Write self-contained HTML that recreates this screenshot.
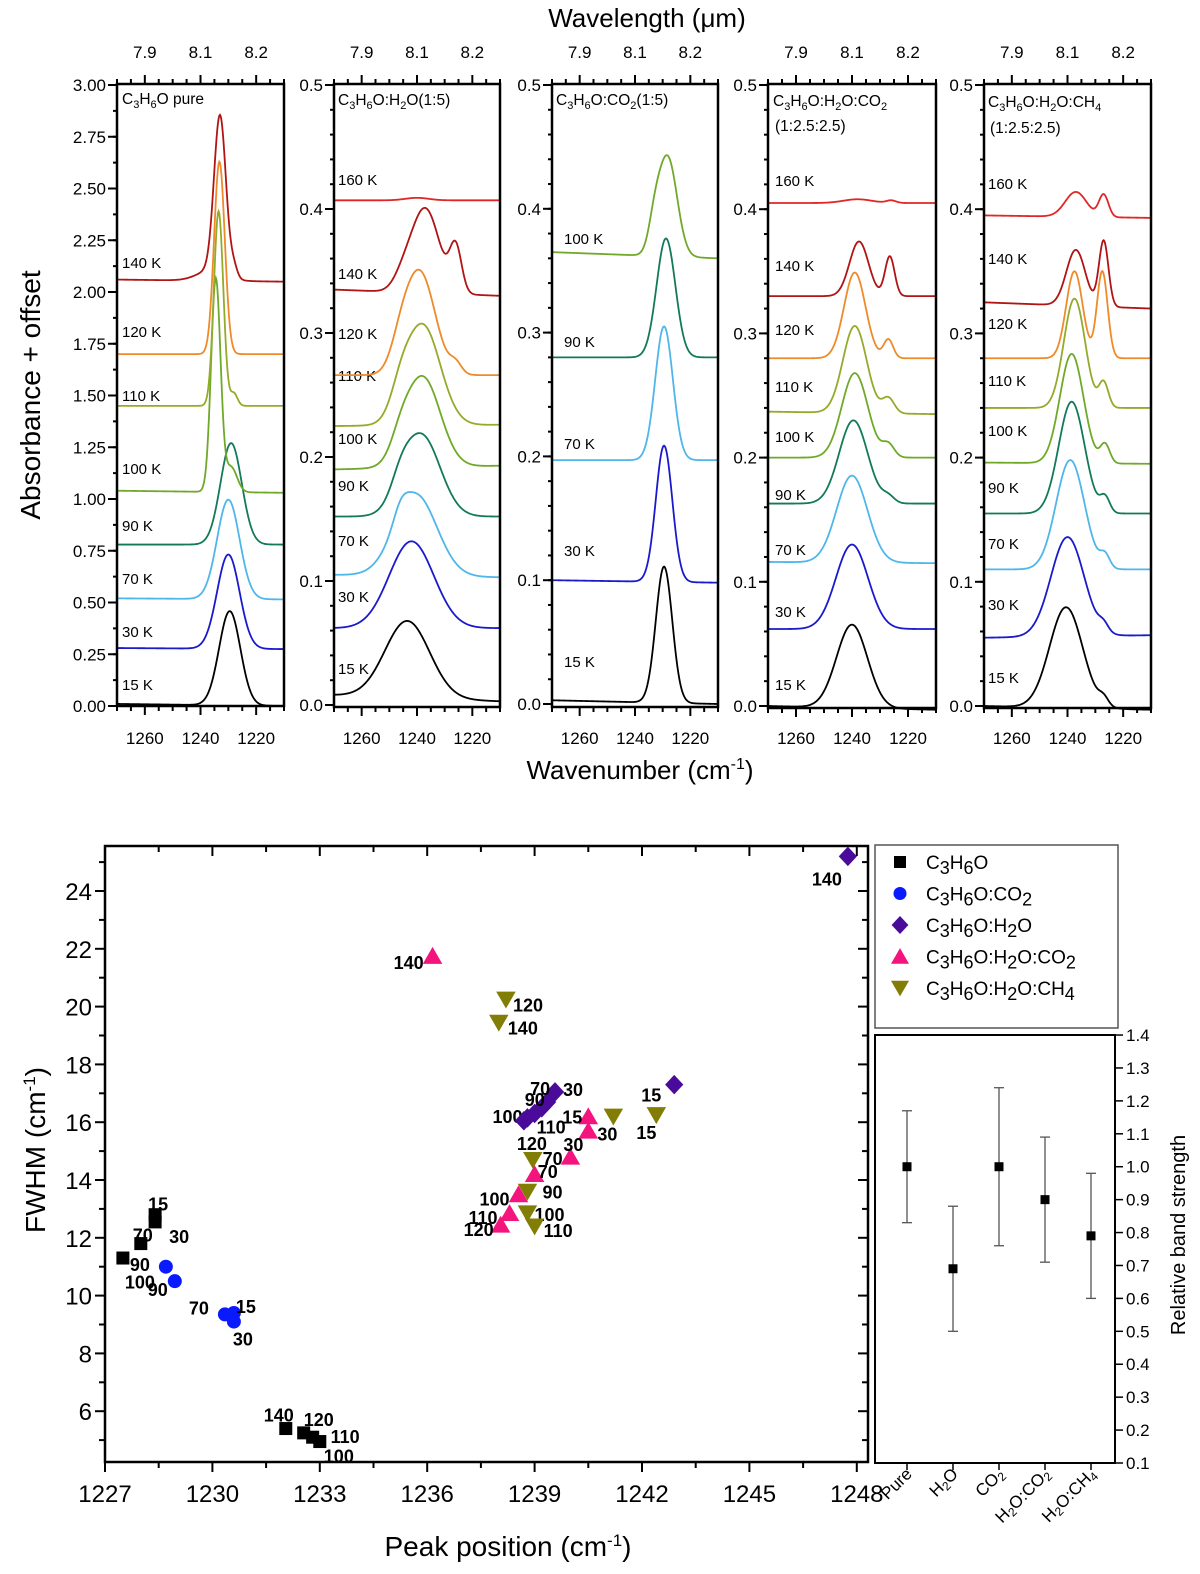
<!DOCTYPE html>
<html><head><meta charset="utf-8"><style>
html,body{margin:0;padding:0;background:#fff;}
svg{display:block;font-family:"Liberation Sans",Arial,sans-serif;}
</style></head><body>
<svg id="fig" width="1200" height="1574" viewBox="0 0 1200 1574">
<rect x="0" y="0" width="1200" height="1574" fill="#fff"/>
<text x="647" y="27" font-size="26" text-anchor="middle">Wavelength (μm)</text>
<text transform="translate(40,395) rotate(-90)" font-size="28" text-anchor="middle">Absorbance + offset</text>
<text x="640" y="779" font-size="26" text-anchor="middle">Wavenumber (cm<tspan dy="-10" font-size="16">-1</tspan><tspan dy="10">)</tspan></text>
<text x="122" y="104" font-size="15.5">C<tspan font-size="11" dy="4">3</tspan><tspan dy="-4">H</tspan><tspan font-size="11" dy="4">6</tspan><tspan dy="-4">O pure</tspan></text>
<text x="338" y="105" font-size="15.5">C<tspan font-size="11" dy="4">3</tspan><tspan dy="-4">H</tspan><tspan font-size="11" dy="4">6</tspan><tspan dy="-4">O:H</tspan><tspan font-size="11" dy="4">2</tspan><tspan dy="-4">O(1:5)</tspan></text>
<text x="556" y="105" font-size="15.5">C<tspan font-size="11" dy="4">3</tspan><tspan dy="-4">H</tspan><tspan font-size="11" dy="4">6</tspan><tspan dy="-4">O:CO</tspan><tspan font-size="11" dy="4">2</tspan><tspan dy="-4">(1:5)</tspan></text>
<text x="773" y="106" font-size="15.5">C<tspan font-size="11" dy="4">3</tspan><tspan dy="-4">H</tspan><tspan font-size="11" dy="4">6</tspan><tspan dy="-4">O:H</tspan><tspan font-size="11" dy="4">2</tspan><tspan dy="-4">O:CO</tspan><tspan font-size="11" dy="4">2</tspan></text>
<text x="775" y="131" font-size="15.5">(1:2.5:2.5)</text>
<text x="988" y="107" font-size="15.5">C<tspan font-size="11" dy="4">3</tspan><tspan dy="-4">H</tspan><tspan font-size="11" dy="4">6</tspan><tspan dy="-4">O:H</tspan><tspan font-size="11" dy="4">2</tspan><tspan dy="-4">O:CH</tspan><tspan font-size="11" dy="4">4</tspan></text>
<text x="990" y="133" font-size="15.5">(1:2.5:2.5)</text>
<text transform="translate(45,1150) rotate(-90)" font-size="28" text-anchor="middle">FWHM (cm<tspan dy="-10" font-size="17">-1</tspan><tspan dy="10">)</tspan></text>
<text x="508" y="1556" font-size="28" text-anchor="middle">Peak position (cm<tspan dy="-10" font-size="17">-1</tspan><tspan dy="10">)</tspan></text>
<text transform="translate(1185,1235) rotate(-90)" font-size="20" text-anchor="middle">Relative band strength</text>
</svg>
<script>
// ---------- Top panel data: [temperature, baseline-left, baseline-right]
const p1Temps=[15,30,70,90,100,110,120,140];
const p1Base=[[0.01,0],[0.28,0.275],[0.52,0.515],[0.78,0.78],[1.04,1.03],[1.45,1.45],[1.70,1.70],[2.06,2.05]];
const p1Peaks=[[[1229.5,0.455,9]],[[1230,0.455,9.5]],[[1230,0.48,9.5]],[[1229,0.49,9]],[[1234.5,1.03,4],[1229,0.12,5]],[[1233.5,0.94,4],[1228,0.06,3]],[[1233.2,0.93,4.5]],[[1233,0.76,5],[1228,0.05,3],[1236,0.05,12]]];
const p1LabY=[685,632,579,526,469,396,332,263];
const p2Temps=[15,30,70,90,100,110,120,140,160];
const p2Base=[[0.008,0.003],[0.062,0.062],[0.105,0.103],[0.152,0.152],[0.19,0.193],[0.225,0.226],[0.266,0.266],[0.335,0.33],[0.407,0.407]];
const p2Peaks=[[[1243.5,0.062,19]],[[1242,0.07,19]],[[1240.5,0.066,18],[1246,0.01,6]],[[1238.5,0.066,16],[1246,0.012,8]],[[1238,0.073,15],[1246,0.012,8]],[[1238,0.081,15],[1246,0.015,8]],[[1239,0.083,13],[1246,0.015,8],[1226,0.008,5]],[[1237,0.068,12],[1226,0.036,5],[1245,0.01,8]],[[1240,0.002,10]]];
const p2LabY=[669,597,541,486,439,376,334,274,180];
const p3Temps=[15,30,70,90,100];
const p3Base=[[0.003,0],[0.1,0.098],[0.197,0.197],[0.28,0.28],[0.365,0.36]];
const p3Peaks=[[[1229.5,0.11,7]],[[1229.5,0.11,7]],[[1229.5,0.108,7.5]],[[1228.8,0.096,8]],[[1228.2,0.08,8],[1233,0.02,5]]];
const p3LabY=[662,551,444,342,239];
const p4Temps=[15,30,70,90,100,110,120,140,160];
const p4Base=[[0,-0.003],[0.062,0.062],[0.116,0.115],[0.163,0.163],[0.2,0.2],[0.237,0.235],[0.28,0.28],[0.33,0.33],[0.405,0.405]];
const p4Peaks=[[[1240,0.067,13]],[[1240,0.068,13.5]],[[1240,0.07,13]],[[1239.5,0.067,12],[1227,0.005,5]],[[1239,0.068,11],[1227,0.01,5]],[[1239,0.07,10],[1227,0.012,5]],[[1239,0.069,9],[1227,0.015,4]],[[1237.5,0.044,8],[1226.5,0.032,4]],[[1238,0.003,12],[1226,0.002,4]]];
const p4LabY=[685,612,550,495,437,387,330,266,181];
const p5Temps=[15,30,70,90,100,110,120,140,160];
const p5Base=[[0,-0.003],[0.055,0.057],[0.11,0.11],[0.155,0.155],[0.196,0.195],[0.24,0.24],[0.28,0.28],[0.325,0.32],[0.395,0.393]];
const p5Peaks=[[[1240.5,0.081,14],[1227,0.006,4]],[[1240,0.08,14],[1227,0.006,4]],[[1239,0.088,12],[1226.5,0.01,4]],[[1238.5,0.09,11],[1226.5,0.012,4]],[[1238.5,0.088,10],[1226.5,0.015,4]],[[1237.5,0.088,9],[1227,0.02,4]],[[1237.5,0.07,7],[1227.5,0.07,4.5]],[[1237,0.045,8],[1227,0.053,4]],[[1237,0.02,9],[1227,0.018,4]]];
const p5LabY=[678,605,544,488,431,381,324,259,184];
const wnTicks=[1260,1240,1220];
const wlTickLabels=['7.9','8.1','8.2'];
const yTicksPure=[0,0.25,0.5,0.75,1.0,1.25,1.5,1.75,2.0,2.25,2.5,2.75,3.0];
const yTicksMix=[0,0.1,0.2,0.3,0.4,0.5];

// ---------- Scatter data
const pureX=[1228.4,1228.4,1228.0,1227.5,1232.05,1232.55,1232.8,1233.0];
const pureY=[12.8,12.55,11.8,11.3,5.4,5.25,5.1,4.95];
const pureLab=['15','30','70','90','140','120','110','100'];
const co2X=[1228.7,1228.95,1230.35,1230.6,1230.6];
const co2Y=[11.0,10.5,9.35,9.4,9.1];
const co2Lab=['100','90','70','15','30'];
const h2oX=[1247.75,1242.9,1239.57,1239.35,1239.2,1239.0,1238.8,1238.7];
const h2oY=[25.2,17.3,17.05,16.7,16.5,16.3,16.15,16.05];
const h2oLab=['140','15','30','70','90','110','100','120'];
const h2oco2X=[1236.15,1240.5,1240.5,1240.0,1239.0,1238.55,1238.3,1238.05];
const h2oco2Y=[21.75,16.2,15.7,14.8,14.2,13.5,12.85,12.45];
const h2oco2Lab=['140','15','','30','70','100','110','120'];
const h2och4X=[1238.2,1238.0,1242.4,1241.2,1238.95,1238.8,1238.8,1239.0];
const h2och4Y=[20.25,19.45,16.25,16.2,14.7,13.6,12.85,12.4];
const h2och4Lab=['120','140','15','30','70','90','100','110'];
const xTicksScatter=[1227,1230,1233,1236,1239,1242,1245,1248];
const yTicksScatter=[6,8,10,12,14,16,18,20,22,24];
// inset
const insetCats=['Pure','H2O','CO2','H2O:CO2','H2O:CH4'];
const insetVal=[1.0,0.69,1.0,0.9,0.79];
const insetLo=[0.83,0.50,0.76,0.71,0.60];
const insetHi=[1.17,0.88,1.24,1.09,0.98];
const insetTicks=[0.1,0.2,0.3,0.4,0.5,0.6,0.7,0.8,0.9,1.0,1.1,1.2,1.3,1.4];

// label offsets (layout)
const pureOff=[[-7,-10],[14,15],[-8,-8],[7,7],[-22,-13],[0,-13],[18,0],[4,15]];
const co2Off=[[-41,16],[-27,9],[-36,-6],[2,-6],[-1,18]];
const h2oOff=[[-36,23],[-33,11],[8,-2],[-17,-13],[-17,-8],[2,14],[-35,-1],[-7,23]];
const h2oco2Off=[[-39,7],[-26,1],[0,0],[-7,-12],[8,-15],[-39,5],[-41,5],[-37,5]];
const h2och4Off=[[7,6],[9,6],[-20,18],[-16,18],[5,12],[15,1],[7,2],[9,5]];

const NS='http://www.w3.org/2000/svg';
const svg=document.getElementById('fig');
function mk(tag,attrs,parent){const e=document.createElementNS(NS,tag);for(const k in attrs)e.setAttribute(k,attrs[k]);(parent||svg).appendChild(e);return e;}
const tempColor={15:'#000000',30:'#1a1acc',70:'#4fb6ea',90:'#127a5a',100:'#70a92a',110:'#93ab2a',120:'#ef8a2a',140:'#b01414',160:'#e02626'};

const panels=[
 {x0:117,x1:284,top:84,bot:706,y0:706,ymax:3.0,temps:p1Temps,base:p1Base,peaks:p1Peaks,labY:p1LabY,yt:yTicksPure,minor:0.125,dec:2,labX:122},
 {x0:334,x1:500,top:84,bot:707,y0:705,ymax:0.5,temps:p2Temps,base:p2Base,peaks:p2Peaks,labY:p2LabY,yt:yTicksMix,minor:0.02,dec:1,labX:338},
 {x0:552,x1:718,top:84,bot:707,y0:704,ymax:0.5,temps:p3Temps,base:p3Base,peaks:p3Peaks,labY:p3LabY,yt:yTicksMix,minor:0.02,dec:1,labX:564},
 {x0:768,x1:936,top:84,bot:708,y0:706,ymax:0.5,temps:p4Temps,base:p4Base,peaks:p4Peaks,labY:p4LabY,yt:yTicksMix,minor:0.02,dec:1,labX:775},
 {x0:984,x1:1151,top:84,bot:708,y0:706,ymax:0.5,temps:p5Temps,base:p5Base,peaks:p5Peaks,labY:p5LabY,yt:yTicksMix,minor:0.02,dec:1,labX:988}
];
panels.forEach((P,pi)=>{
  const g=mk('g',{});
  
  
  const xs=w=>P.x0+(1270-w)*(P.x1-P.x0)/60;
  const ys=v=>P.y0-v/P.ymax*(P.y0-85);
  P.temps.forEach((t,i)=>{
    let d='';
    for(let w=1270;w>=1210;w-=0.25){
      const f=(1270-w)/60;
      let v=P.base[i][0]+(P.base[i][1]-P.base[i][0])*f;
      P.peaks[i].forEach(pk=>{v+=pk[1]*Math.exp(-4*Math.LN2*(w-pk[0])*(w-pk[0])/(pk[2]*pk[2]));});
      d+=(d?'L':'M')+xs(w).toFixed(2)+','+ys(v).toFixed(2);
    }
    const c=mk('path',{d:d,fill:'none',stroke:tempColor[t],'stroke-width':1.8},g);
    
    
    const tl=mk('text',{x:P.labX,y:P.labY[i]+5,'font-size':15},g);
    tl.textContent=t+' K';
    
    
  });
  const fr=mk('rect',{x:P.x0,y:P.top,width:P.x1-P.x0,height:P.bot-P.top,fill:'none',stroke:'#000','stroke-width':2.5},g);
  
  
  for(let v=0;v<=P.ymax+1e-9;v+=P.minor){
    const y=ys(v);
    const l=mk('line',{x1:P.x0-4,x2:P.x0,y1:y,y2:y,stroke:'#000','stroke-width':2},g);
    
    
  }
  P.yt.forEach(v=>{
    const y=ys(v);
    const l=mk('line',{x1:P.x0-9,x2:P.x0,y1:y,y2:y,stroke:'#000','stroke-width':2},g);
    
    
    const tx=mk('text',{x:P.x0-11,y:y+6,'font-size':17,'text-anchor':'end'},g);
    tx.textContent=v.toFixed(P.dec);
    
    
  });
  for(let w=1270;w>=1210;w-=5){
    const x=xs(w);
    const maj=wnTicks.indexOf(w)>=0;
    const l1=mk('line',{x1:x,x2:x,y1:P.bot,y2:P.bot+(maj?9:5),stroke:'#000','stroke-width':2},g);
    
    
    const l2=mk('line',{x1:x,x2:x,y1:P.top,y2:P.top-(maj?9:5),stroke:'#000','stroke-width':2},g);
    
    
  }
  wnTicks.forEach((w,k)=>{
    const x=xs(w);
    const t1=mk('text',{x:x,y:744,'font-size':17,'text-anchor':'middle'},g);
    t1.textContent=w;
    
    
    const t2=mk('text',{x:x,y:58,'font-size':17,'text-anchor':'middle'},g);
    t2.textContent=wlTickLabels[k];
    
    
  });
});

// ---------- Scatter
const SX0=105,SX1=868,ST=846,SB=1462;
const xS=p=>SX0+(p-1227)*35.8;
const yS=v=>1180-(v-14)*28.9;
const sg=mk('g',{});


for(let p=1227;p<=1248.01;p+=1.5){
  const x=xS(p);const maj=xTicksScatter.indexOf(Math.round(p*10)/10)>=0;
  const l=mk('line',{x1:x,x2:x,y1:SB,y2:SB+(maj?10:6),stroke:'#000','stroke-width':2},sg);
  
  
  const l2=mk('line',{x1:x,x2:x,y1:ST,y2:ST+(maj?10:6),stroke:'#000','stroke-width':2},sg);
  
  
}
xTicksScatter.forEach(p=>{
  const t=mk('text',{x:xS(p),y:1502,'font-size':24,'text-anchor':'middle'},sg);
  t.textContent=p;
  
  
});
for(let v=5;v<=25;v+=1){
  const y=yS(v);const maj=yTicksScatter.indexOf(v)>=0;
  const l=mk('line',{x1:SX0-(maj?10:6),x2:SX0,y1:y,y2:y,stroke:'#000','stroke-width':2},sg);
  
  
  const l2=mk('line',{x1:SX1-(maj?10:6),x2:SX1,y1:y,y2:y,stroke:'#000','stroke-width':2},sg);
  
  
}
yTicksScatter.forEach(v=>{
  const t=mk('text',{x:SX0-13,y:yS(v)+9,'font-size':24,'text-anchor':'end'},sg);
  t.textContent=v;
  
  
});
const sf=mk('rect',{x:SX0,y:ST,width:SX1-SX0,height:SB-ST,fill:'none',stroke:'#000','stroke-width':2.5},sg);



function marker(shape,cx,cy,col,parent,s){
  let e;
  if(shape==='square') e=mk('rect',{x:cx-s/2,y:cy-s/2,width:s,height:s,fill:col},parent);
  else if(shape==='circle') e=mk('circle',{cx:cx,cy:cy,r:s/2+0.5,fill:col},parent);
  else if(shape==='diamond') e=mk('polygon',{points:`${cx},${cy-s*0.75} ${cx+s*0.7},${cy} ${cx},${cy+s*0.75} ${cx-s*0.7},${cy}`,fill:col},parent);
  else if(shape==='up') e=mk('polygon',{points:`${cx},${cy-s*0.7} ${cx+s*0.75},${cy+s*0.6} ${cx-s*0.75},${cy+s*0.6}`,fill:col},parent);
  else e=mk('polygon',{points:`${cx},${cy+s*0.7} ${cx+s*0.75},${cy-s*0.6} ${cx-s*0.75},${cy-s*0.6}`,fill:col},parent);
  return e;
}
const series=[
 {name:'pure',X:pureX,Y:pureY,L:pureLab,O:pureOff,shape:'square',col:'#000'},
 {name:'co2',X:co2X,Y:co2Y,L:co2Lab,O:co2Off,shape:'circle',col:'#0a1aff'},
 {name:'h2o',X:h2oX,Y:h2oY,L:h2oLab,O:h2oOff,shape:'diamond',col:'#4a0a9a'},
 {name:'h2o-co2',X:h2oco2X,Y:h2oco2Y,L:h2oco2Lab,O:h2oco2Off,shape:'up',col:'#f4147e'},
 {name:'h2o-ch4',X:h2och4X,Y:h2och4Y,L:h2och4Lab,O:h2och4Off,shape:'down',col:'#827e05'}
];
series.forEach(S=>{
  const g=mk('g',{},sg);
  
  
  S.X.forEach((p,i)=>{
    const cx=xS(p),cy=yS(S.Y[i]);
    const m=marker(S.shape,cx,cy,S.col,g,13);
    
    
    if(S.L[i]){
      const t=mk('text',{x:cx+S.O[i][0],y:cy+S.O[i][1]+6,'font-size':18,'font-weight':'bold'},g);
      t.textContent=S.L[i];
      
      
    }
  });
});

// ---------- Legend
const lg=mk('g',{});


const lr=mk('rect',{x:875,y:845,width:243,height:183,fill:'#fff',stroke:'#555','stroke-width':1.5},lg);


const legText=[['C','3','H','6','O'],['C','3','H','6','O:CO','2'],['C','3','H','6','O:H','2','O'],['C','3','H','6','O:H','2','O:CO','2'],['C','3','H','6','O:H','2','O:CH','4']];
series.forEach((S,i)=>{
  const y=862+i*31.5;
  const m=marker(S.shape,900,y,S.col,lg,12);
  
  
  const t=mk('text',{x:926,y:y+7,'font-size':19},lg);
  
  
  legText[i].forEach((s,k)=>{
    const ts=mk('tspan',{},t);
    if(k%2===1){ts.setAttribute('dy','5');ts.setAttribute('font-size','18');}
    else if(k>0){ts.setAttribute('dy','-5');}
    ts.textContent=s;
  });
});

// ---------- Inset
const IX0=875,IX1=1115,IT=1035,IB=1463;
const xI=i=>907+i*46;
const yI=v=>IB-(v-0.1)*329.2;
const ig=mk('g',{});


const ir=mk('rect',{x:IX0,y:IT,width:IX1-IX0,height:IB-IT,fill:'none',stroke:'#000','stroke-width':2},ig);


insetTicks.forEach(v=>{
  const y=yI(v);
  const l=mk('line',{x1:IX1,x2:IX1+8,y1:y,y2:y,stroke:'#000','stroke-width':1.5},ig);
  
  
  const t=mk('text',{x:IX1+11,y:y+6,'font-size':17},ig);
  t.textContent=v.toFixed(1);
  
  
});
const catMarkup=['Pure','H<tspan font-size="12" dy="3">2</tspan><tspan dy="-3">O</tspan>','CO<tspan font-size="12" dy="3">2</tspan>','H<tspan font-size="12" dy="3">2</tspan><tspan dy="-3">O:CO</tspan><tspan font-size="12" dy="3">2</tspan>','H<tspan font-size="12" dy="3">2</tspan><tspan dy="-3">O:CH</tspan><tspan font-size="12" dy="3">4</tspan>'];
insetCats.forEach((c,i)=>{
  const x=xI(i);
  const tk=mk('line',{x1:x,x2:x,y1:IB,y2:IB+7,stroke:'#000','stroke-width':1.5},ig);
  
  
  const eb=mk('line',{x1:x,x2:x,y1:yI(insetLo[i]),y2:yI(insetHi[i]),stroke:'#555','stroke-width':1.3},ig);
  
  
  [insetLo[i],insetHi[i]].forEach(v=>{
    const cap=mk('line',{x1:x-5,x2:x+5,y1:yI(v),y2:yI(v),stroke:'#555','stroke-width':1.3},ig);
    
    
  });
  const sq=mk('rect',{x:x-4.5,y:yI(insetVal[i])-4.5,width:9,height:9,fill:'#000'},ig);
  
  
  const t=mk('text',{transform:`translate(${x+6},${IB+12}) rotate(-45)`,'font-size':17,'text-anchor':'end'},ig);
  t.innerHTML=catMarkup[i];
  
  
});
</script>
</body></html>
